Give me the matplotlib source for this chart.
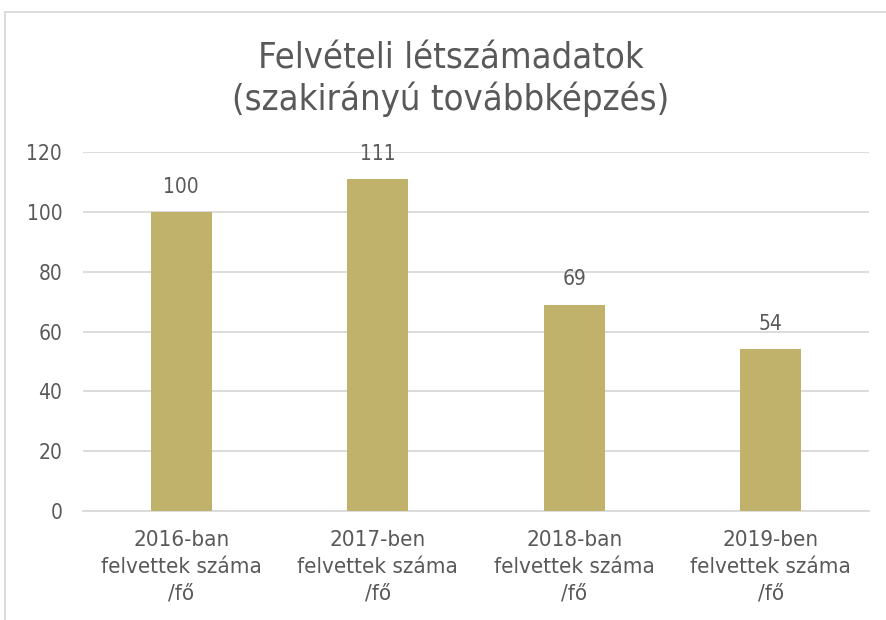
import matplotlib.pyplot as plt
from matplotlib.lines import Line2D

categories = ["2016-ban\nfelvettek száma\n/fő", "2017-ben\nfelvettek száma\n/fő",
              "2018-ban\nfelvettek száma\n/fő", "2019-ben\nfelvettek száma\n/fő"]
values = [100, 111, 69, 54]
yticks = [0, 20, 40, 60, 80, 100, 120]

text_color = "#595959"
bar_color = "#C0B26A"
grid_color = "#D9D9D9"

plt.rcParams['font.family'] = ['DejaVu Sans']
plt.rcParams['font.stretch'] = 'condensed'

fig = plt.figure(figsize=(8.87, 6.20), dpi=100)
ax = fig.add_axes([83 / 887, 1 - 511 / 620, (869 - 83) / 887, (511 - 152) / 620])

x = range(len(values))
bars = ax.bar(x, values, width=0.31, color=bar_color, zorder=3)

for xi, v in zip(x, values):
    ax.annotate(str(v), (xi, v), xytext=(0, 11), textcoords="offset points",
                ha="center", va="bottom", fontsize=15, color=text_color)

ax.set_xlim(-0.5, len(values) - 0.5)
ax.set_ylim(0, 120)
ax.set_yticks(yticks)
ax.set_xticks(list(x))
ax.set_xticklabels(categories, fontsize=16, color=text_color, linespacing=1.41)
ax.tick_params(axis="y", labelsize=15, labelcolor=text_color, length=0, pad=15)
ax.tick_params(axis="x", length=0, pad=14)
ax.grid(axis="y", color=grid_color, linewidth=1.3, zorder=0)
for s in ["top", "right", "left"]:
    ax.spines[s].set_visible(False)
ax.spines["bottom"].set_color(grid_color)
ax.spines["bottom"].set_linewidth(1.3)

fig.text(0.508, 1 - 79 / 620, "Felvételi létszámadatok\n(szakirányú továbbképzés)",
         ha="center", va="center", fontsize=26, color=text_color, linespacing=1.2)

# chart border (top and left edges visible)
fig.add_artist(Line2D([5 / 887, 5 / 887], [0, 1 - 12 / 620], transform=fig.transFigure,
                      color=grid_color, linewidth=1.3))
fig.add_artist(Line2D([5 / 887, 1], [1 - 12 / 620, 1 - 12 / 620], transform=fig.transFigure,
                      color=grid_color, linewidth=1.3))

fig.savefig("out.png", dpi=100)
